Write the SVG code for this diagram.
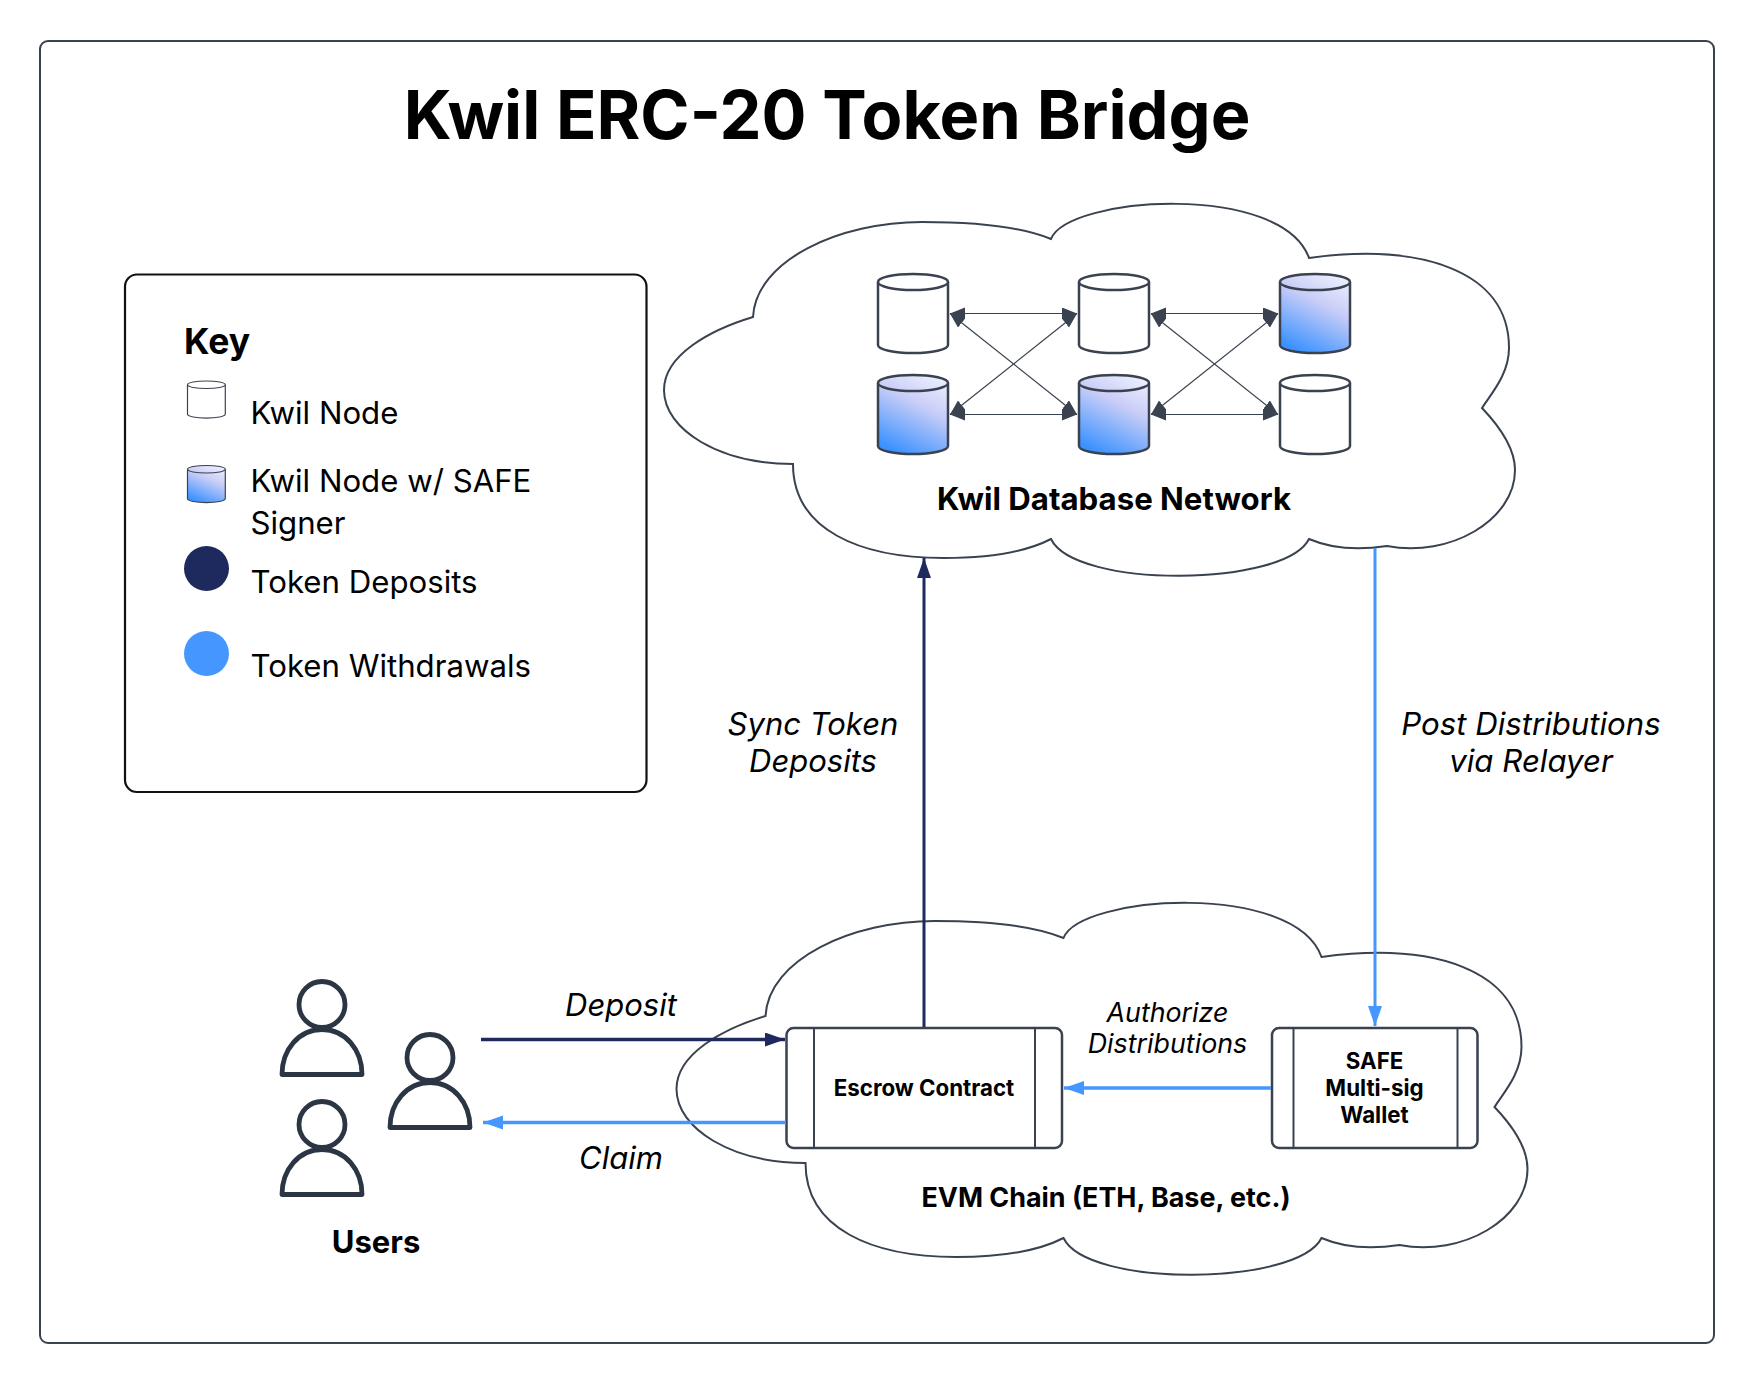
<svg xmlns="http://www.w3.org/2000/svg" width="1754" height="1384" viewBox="0 0 1754 1384">
<style>
text{font-family:"Inter","Liberation Sans",sans-serif;fill:#000}
.b{font-weight:700;text-anchor:middle}
.i{font-style:italic;text-anchor:middle;font-size:31px}
.a{font-size:26.800px}
.k{font-size:31.200px}
.c{font-size:22.300px}
.cloud{fill:#fff;stroke:#3a4250;stroke-width:2}
.plain{fill:#fff}
.grad{fill:url(#g)}
.cyl{stroke:#3a4250;stroke-width:2.500}
.kc{stroke:#3a4250;stroke-width:2.200}
.box{fill:#fff;stroke:#3a4250;stroke-width:2.500}
.div{stroke:#3a4250;stroke-width:2}
.link{fill:none;stroke:#3a4250;stroke-width:1.200;marker-start:url(#mg);marker-end:url(#mg)}
.person{fill:none;stroke:#2b3544;stroke-width:4.800;stroke-linejoin:round}
</style>
<defs>
<linearGradient id="g" gradientUnits="userSpaceOnUse" x1="22" y1="79" x2="62" y2="0">
<stop offset="0" stop-color="#3b92ff"/><stop offset=".6" stop-color="#c9cdf7"/><stop offset="1" stop-color="#eef2ff"/>
</linearGradient>
<marker id="mg" markerUnits="userSpaceOnUse" markerWidth="16" markerHeight="14" refX="15" refY="6" orient="auto-start-reverse"><path d="M0 0L15 6L0 12Z" fill="#3a4250"/></marker>
<marker id="mn" markerUnits="userSpaceOnUse" markerWidth="20" markerHeight="16" refX="20" refY="7" orient="auto"><path d="M0 0L20 7L0 14Z" fill="#1e2a5e"/></marker>
<marker id="ml" markerUnits="userSpaceOnUse" markerWidth="20" markerHeight="16" refX="20" refY="7" orient="auto"><path d="M0 0L20 7L0 14Z" fill="#4596ff"/></marker>
<g id="cylinder"><path d="M0 8V71C0 75.500 16 79 35 79S70 75.500 70 71V8"/><ellipse cx="35" cy="8" rx="35" ry="8"/></g>
<path id="cloudshape" d="M1051 239C1068 196 1282 182 1309 258C1420 243 1509 270 1509 348C1509 375 1490 395 1482 408C1503 430 1515 450 1515 470C1515 520 1450 558 1387 546C1355 551 1330 548 1309 539C1285 587 1075 589 1051 539C1020 555 980 558 944 558C860 558 793 530 793 464C720 464 664 430 664 390C664 355 710 330 753 317C756 260 840 222 922 222C980 222 1025 228 1051 239Z"/>
<path id="person" d="M-40 70H40C40 45 23 25 0 25C-23 25 -40 45 -40 70ZM-23 0A23 23 0 1 0 23 0A23 23 0 1 0 -23 0Z"/>
</defs>
<rect width="1754" height="1384" fill="#fff"/>
<rect id="frame" x="40" y="41" width="1674" height="1302" rx="8" fill="#fff" stroke="#3a4250" stroke-width="2"/>
<text id="title" x="827" y="139" class="b" font-size="66.700">Kwil ERC-20 Token Bridge</text>

<g id="legend">
<rect x="125" y="274.500" width="521.500" height="517.500" rx="12" fill="#fff" stroke="#111" stroke-width="2.200"/>
<text x="184" y="354" font-size="35.500" font-weight="700">Key</text>
<use href="#cylinder" transform="translate(187.500 381) scale(.54 .47)" class="plain kc"/>
<text x="250.500" y="424" class="k">Kwil Node</text>
<use href="#cylinder" transform="translate(187.500 465.500) scale(.54 .47)" class="grad kc"/>
<text x="250.500" y="492" class="k">Kwil Node w/ SAFE</text>
<text x="250.500" y="533.500" class="k">Signer</text>
<circle cx="206.500" cy="568.500" r="22.500" fill="#1e2a5e"/>
<text x="250.500" y="593" class="k">Token Deposits</text>
<circle cx="206.500" cy="653.500" r="22.500" fill="#4596ff"/>
<text x="250.500" y="677" class="k">Token Withdrawals</text>
</g>

<g id="cloud-kwil"><use href="#cloudshape" class="cloud"/><text x="1114" y="510" class="b" font-size="31.200">Kwil Database Network</text></g>
<g id="cloud-evm"><use href="#cloudshape" class="cloud" transform="translate(12.500 699)"/><text x="1106" y="1207" class="b" font-size="26.900">EVM Chain (ETH, Base, etc.)</text></g>

<g id="node-1"><use href="#cylinder" x="878" y="274" class="plain cyl"/></g>
<g id="node-2"><use href="#cylinder" x="1079" y="274" class="plain cyl"/></g>
<g id="node-3"><use href="#cylinder" transform="translate(1280 274)" class="grad cyl"/></g>
<g id="node-4"><use href="#cylinder" transform="translate(878 375)" class="grad cyl"/></g>
<g id="node-5"><use href="#cylinder" transform="translate(1079 375)" class="grad cyl"/></g>
<g id="node-6"><use href="#cylinder" x="1280" y="375" class="plain cyl"/></g>

<g id="escrow">
<rect x="786.500" y="1028" width="275.500" height="120" rx="7" class="box"/>
<path d="M814 1028V1148M1035 1028V1148" class="div"/>
<text x="924" y="1096" class="b c">Escrow Contract</text>
</g>
<g id="safe">
<rect x="1272" y="1028" width="205.500" height="120" rx="7" class="box"/>
<path d="M1293.500 1028V1148M1457.500 1028V1148" class="div"/>
<text x="1374.500" y="1069" class="b c">SAFE</text>
<text x="1374.500" y="1096" class="b c">Multi-sig</text>
<text x="1374.500" y="1123" class="b c">Wallet</text>
</g>

<g id="users">
<g id="user-1"><use href="#person" transform="translate(322 1004.500)" class="person"/></g>
<g id="user-2"><use href="#person" transform="translate(430 1057.500)" class="person"/></g>
<g id="user-3"><use href="#person" transform="translate(322 1124.500)" class="person"/></g>
<text x="376" y="1253" class="b" font-size="31">Users</text>
</g>

<g id="connectors">
<path class="link" d="M950 313.500H1077"/>
<path class="link" d="M950 414.500H1077"/>
<path class="link" d="M950 313.500L1077 414.500"/>
<path class="link" d="M950 414.500L1077 313.500"/>
<path class="link" d="M1151 313.500H1278"/>
<path class="link" d="M1151 414.500H1278"/>
<path class="link" d="M1151 313.500L1278 414.500"/>
<path class="link" d="M1151 414.500L1278 313.500"/>
<path d="M924 1027V558" fill="none" stroke="#1e2a5e" stroke-width="3" marker-end="url(#mn)"/>
<path d="M1375 548V1026" fill="none" stroke="#4596ff" stroke-width="3" marker-end="url(#ml)"/>
<path d="M1271 1088H1064" fill="none" stroke="#4596ff" stroke-width="3.500" marker-end="url(#ml)"/>
<path d="M481 1039.500H785" fill="none" stroke="#1e2a5e" stroke-width="3.500" marker-end="url(#mn)"/>
<path d="M786 1122.500H483" fill="none" stroke="#4596ff" stroke-width="3.500" marker-end="url(#ml)"/>
</g>

<g id="labels">
<text x="813" y="735" class="i">Sync Token</text>
<text x="813" y="772" class="i">Deposits</text>
<text x="1531" y="735" class="i" style="font-size:31.200px">Post Distributions</text>
<text x="1531" y="772" class="i" style="font-size:31.200px">via Relayer</text>
<text x="1167.500" y="1022" class="i a">Authorize</text>
<text x="1167.500" y="1053" class="i a">Distributions</text>
<text x="621" y="1015.500" class="i">Deposit</text>
<text x="621" y="1169" class="i">Claim</text>
</g>
</svg>
